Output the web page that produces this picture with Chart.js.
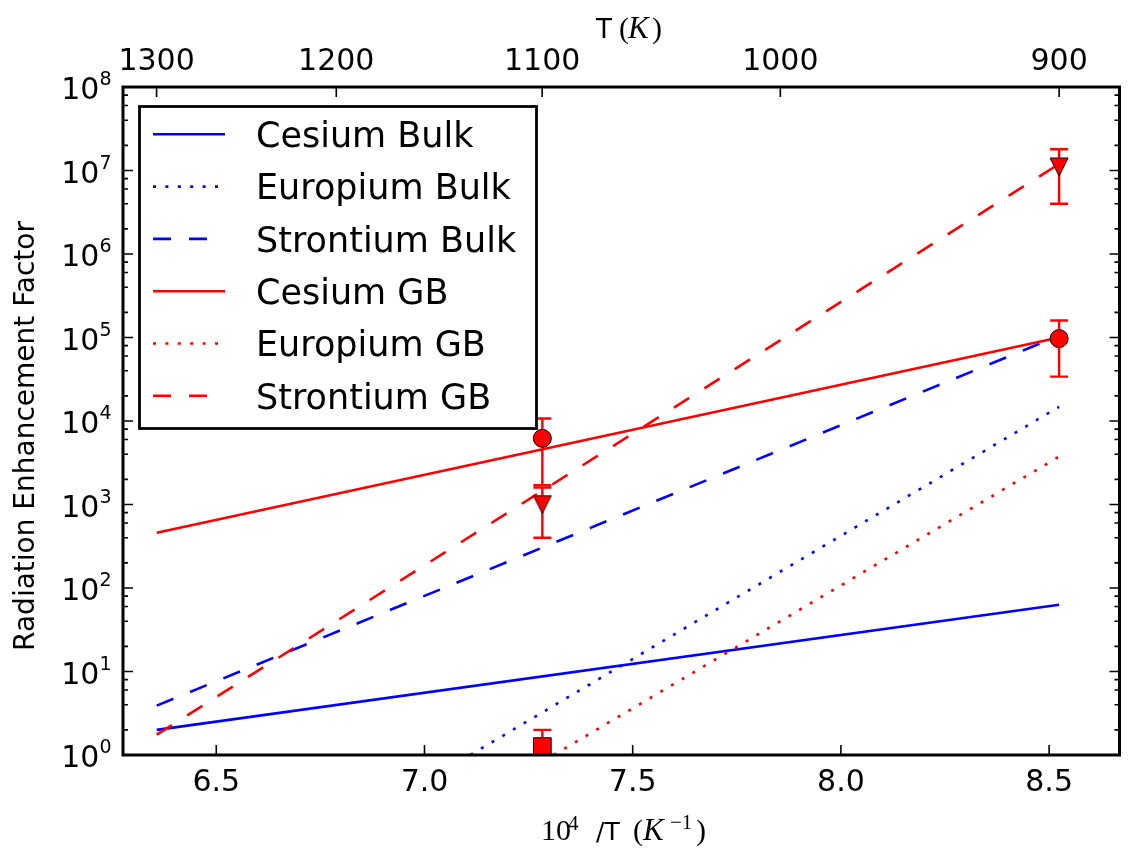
<!DOCTYPE html>
<html>
<head>
<meta charset="utf-8">
<script src="https://cdn.jsdelivr.net/npm/chart.js@4.4.1/dist/chart.umd.min.js"></script>
<style>
  html, body { margin: 0; padding: 0; background: #ffffff; }
  #wrap { width: 1133px; height: 853px; }
</style>
</head>
<body>
<div id="wrap"><canvas id="chart" width="1133" height="853"></canvas></div>
<script>
// Model lines, x = 10^4 / T
const lineX = [6.357, 8.524];
const cesiumBulk = [2.0, 63];
const strontiumBulk = [3.9, 1.05e5];
const cesiumGB = [460, 1.0e5];
const strontiumGB = [1.75, 1.2e7];
const europiumBulkX = [7.11, 8.524];
const europiumBulk = [1, 1.48e4];
const europiumGBX = [7.31, 8.524];
const europiumGB = [1, 3.75e3];

// Measured enhancement factors with symmetric errors
const measX = [7.283, 8.524];
const cesiumMeas = [6.2e3, 9.7e4];
const cesiumErr = [4.5e3, 6.3e4];
const strontiumMeas = [1.0e3, 1.1e7];
const strontiumErr = [0.6e3, 7.0e6];
const europiumMeasX = [7.283];
const europiumMeas = [1.26];
const europiumErr = [0.74];

// Axis ticks
const xTicks = [6.5, 7.0, 7.5, 8.0, 8.5];
const tempTicks = [1300, 1200, 1100, 1000, 900];
const yExponents = [0, 1, 2, 3, 4, 5, 6, 7, 8];
const yMinorMults = [2, 4, 6, 8];

const SANS = "'DejaVu Sans', sans-serif";
const SERIF = "'Liberation Serif', 'DejaVu Serif', serif";
const BLUE = '#0000ff';
const RED = '#ff0000';
const DASHED = [18, 18];
const DOTTED = [3, 9.4];

const pts = (xs, ys) => xs.map((x, i) => ({ x: x, y: ys[i] }));

// downward triangle marker, centred on its bounding box
const triangleDown = (() => {
  const c = document.createElement('canvas');
  c.width = 20; c.height = 20;
  const g = c.getContext('2d');
  g.beginPath();
  g.moveTo(1, 1); g.lineTo(19, 1); g.lineTo(10, 19); g.closePath();
  g.fillStyle = RED; g.fill();
  g.lineWidth = 1; g.strokeStyle = '#000'; g.stroke();
  return c;
})();

function lineSet(label, xs, ys, color, dash, order) {
  return {
    label: label, data: pts(xs, ys), showLine: true, borderColor: color,
    borderWidth: 2.6, borderDash: dash, pointRadius: 0, pointHoverRadius: 0,
    fill: false, tension: 0, order: order, clip: 0, inLegend: true
  };
}

function markerSet(label, xs, ys, errs, style, radius) {
  return {
    label: label, data: pts(xs, ys), errors: errs, showLine: false,
    pointStyle: style, pointRadius: radius, pointHoverRadius: radius,
    pointBackgroundColor: RED, pointBorderColor: '#000', pointBorderWidth: 1,
    order: 0, clip: 0
  };
}

const datasets = [
  lineSet('Cesium Bulk', lineX, cesiumBulk, BLUE, [], 6),
  lineSet('Europium Bulk', europiumBulkX, europiumBulk, BLUE, DOTTED, 5),
  lineSet('Strontium Bulk', lineX, strontiumBulk, BLUE, DASHED, 4),
  lineSet('Cesium GB', lineX, cesiumGB, RED, [], 3),
  lineSet('Europium GB', europiumGBX, europiumGB, RED, DOTTED, 2),
  lineSet('Strontium GB', lineX, strontiumGB, RED, DASHED, 1),
  markerSet('Cesium measured', measX, cesiumMeas, cesiumErr, 'circle', 9),
  markerSet('Strontium measured', measX, strontiumMeas, strontiumErr, triangleDown, 10),
  markerSet('Europium measured', europiumMeasX, europiumMeas, europiumErr, 'rect', 12.5)
];

// vertical error bars with caps, under each marker set
const errorBars = {
  id: 'errorBars',
  beforeDatasetDraw(chart, args) {
    const ds = chart.data.datasets[args.index];
    if (!ds.errors) return;
    const { ctx, chartArea: a, scales: { x, y } } = chart;
    ctx.save();
    ctx.beginPath();
    ctx.rect(a.left, a.top, a.right - a.left, a.bottom - a.top);
    ctx.clip();
    ctx.strokeStyle = RED;
    ctx.lineWidth = 2.4;
    ds.data.forEach((p, i) => {
      const e = ds.errors[i];
      const px = x.getPixelForValue(p.x);
      const hi = y.getPixelForValue(p.y + e);
      const lo = y.getPixelForValue(p.y - e);
      ctx.beginPath();
      ctx.moveTo(px, hi); ctx.lineTo(px, lo);
      ctx.moveTo(px - 9, hi); ctx.lineTo(px + 9, hi);
      ctx.moveTo(px - 9, lo); ctx.lineTo(px + 9, lo);
      ctx.stroke();
    });
    ctx.restore();
  }
};

// text pieces placed at fixed left edges on a shared baseline
function drawPieces(ctx, pieces, baseline) {
  ctx.textAlign = 'left';
  ctx.textBaseline = 'alphabetic';
  pieces.forEach(p => {
    ctx.font = p.f;
    ctx.fillText(p.t, p.x, baseline + (p.dy || 0));
  });
}

// frame, inward ticks, tick labels, axis titles
const frame = {
  id: 'frame',
  afterDatasetsDraw(chart) {
    const { ctx, chartArea: a, scales: { x, y } } = chart;
    ctx.save();
    ctx.strokeStyle = '#000';
    ctx.fillStyle = '#000';
    ctx.lineWidth = 1.6;
    const MAJ = 10, MIN = 5;
    ctx.beginPath();
    xTicks.forEach(v => {
      const px = x.getPixelForValue(v);
      ctx.moveTo(px, a.bottom); ctx.lineTo(px, a.bottom - MAJ);
    });
    tempTicks.forEach(t => {
      const px = x.getPixelForValue(1e4 / (t + 273.15));
      ctx.moveTo(px, a.top); ctx.lineTo(px, a.top + MAJ);
    });
    yExponents.forEach(e => {
      const py = y.getPixelForValue(Math.pow(10, e));
      ctx.moveTo(a.left, py); ctx.lineTo(a.left + MAJ, py);
      ctx.moveTo(a.right, py); ctx.lineTo(a.right - MAJ, py);
      if (e < 8) {
        yMinorMults.forEach(m => {
          const pm = y.getPixelForValue(m * Math.pow(10, e));
          ctx.moveTo(a.left, pm); ctx.lineTo(a.left + MIN, pm);
          ctx.moveTo(a.right, pm); ctx.lineTo(a.right - MIN, pm);
        });
      }
    });
    ctx.stroke();

    ctx.lineWidth = 3;
    ctx.strokeRect(a.left, a.top, a.right - a.left, a.bottom - a.top);

    // bottom tick labels
    ctx.font = `30px ${SANS}`;
    ctx.textAlign = 'center';
    ctx.textBaseline = 'alphabetic';
    xTicks.forEach(v => ctx.fillText(v.toFixed(1), x.getPixelForValue(v), 791));
    // top tick labels (temperature)
    tempTicks.forEach(t => ctx.fillText(String(t), x.getPixelForValue(1e4 / (t + 273.15)), 70));

    // left tick labels, 10^n
    yExponents.forEach(e => {
      const py = y.getPixelForValue(Math.pow(10, e));
      ctx.font = `19px ${SANS}`;
      ctx.textAlign = 'right';
      const sup = String(e);
      const sw = ctx.measureText(sup).width;
      ctx.fillText(sup, 111.5, py - 2);
      ctx.font = `30px ${SANS}`;
      ctx.fillText('10', 111.5 - sw, py + 12.3);
    });

    // y title
    ctx.save();
    ctx.translate(34, 436);
    ctx.rotate(-Math.PI / 2);
    ctx.font = `28px ${SANS}`;
    ctx.textAlign = 'center';
    ctx.textBaseline = 'alphabetic';
    ctx.fillText('Radiation Enhancement Factor', 0, 0);
    ctx.restore();

    // x title: 10^4 /T (K^-1)
    drawPieces(ctx, [
      { t: '10', f: `30px ${SERIF}`, x: 541 },
      { t: '4', f: `21px ${SERIF}`, x: 568, dy: -10 },
      { t: '/T', f: `25px ${SANS}`, x: 596 },
      { t: '(', f: `30px ${SERIF}`, x: 633 },
      { t: 'K', f: `italic 31px ${SERIF}`, x: 643 },
      { t: '\u22121', f: `21px ${SERIF}`, x: 670, dy: -11 },
      { t: ')', f: `30px ${SERIF}`, x: 696 }
    ], 840);

    // top title: T (K)
    drawPieces(ctx, [
      { t: 'T', f: `26px ${SANS}`, x: 596 },
      { t: '(', f: `30px ${SERIF}`, x: 619 },
      { t: 'K', f: `italic 31px ${SERIF}`, x: 628 },
      { t: ')', f: `30px ${SERIF}`, x: 652 }
    ], 38);
    ctx.restore();
  }
};

// boxed legend in the upper left of the plot
const boxLegend = {
  id: 'boxLegend',
  afterDraw(chart) {
    const ctx = chart.ctx;
    const items = chart.data.datasets.filter(d => d.inLegend);
    ctx.save();
    ctx.fillStyle = '#ffffff';
    ctx.fillRect(139.5, 106.5, 397, 322);
    ctx.lineWidth = 2.8;
    ctx.strokeStyle = '#000';
    ctx.strokeRect(139.5, 106.5, 397, 322);
    items.forEach((d, i) => {
      const ry = 134.3 + i * 52.3;
      ctx.beginPath();
      ctx.setLineDash(d.borderDash);
      ctx.lineWidth = d.borderWidth;
      ctx.strokeStyle = d.borderColor;
      ctx.moveTo(153, ry); ctx.lineTo(225, ry);
      ctx.stroke();
      ctx.setLineDash([]);
      ctx.fillStyle = '#000';
      ctx.font = `35px ${SANS}`;
      ctx.textAlign = 'left';
      ctx.textBaseline = 'alphabetic';
      ctx.fillText(d.label, 256, ry + 12.8);
    });
    ctx.restore();
  }
};

new Chart(document.getElementById('chart'), {
  type: 'scatter',
  data: { datasets: datasets },
  options: {
    responsive: false,
    animation: false,
    devicePixelRatio: 1,
    layout: { padding: { left: 123, top: 87, right: 10, bottom: 98 } },
    plugins: { legend: { display: false }, tooltip: { enabled: false } },
    scales: {
      x: { type: 'linear', min: 6.276, max: 8.669, display: false },
      y: { type: 'logarithmic', min: 1, max: 1e8, display: false }
    }
  },
  plugins: [errorBars, frame, boxLegend]
});
</script>
</body>
</html>
